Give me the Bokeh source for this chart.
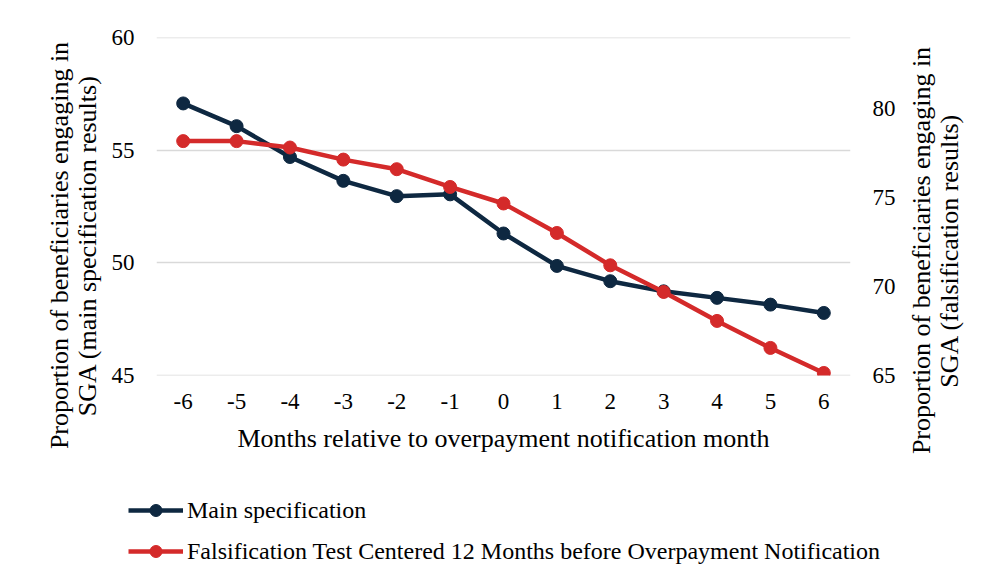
import math
from bokeh.plotting import figure
from bokeh.layouts import column, row
from bokeh.models import (Range1d, LinearAxis, FixedTicker, Legend, LegendItem,
                          FactorRange, ColumnDataSource, Label)
from bokeh.embed import file_html
from bokeh.resources import INLINE

months = ["-6", "-5", "-4", "-3", "-2", "-1", "0", "1", "2", "3", "4", "5", "6"]
main_spec = [57.08, 56.07, 54.70, 53.64, 52.96, 53.04, 51.30, 49.86, 49.18, 48.73, 48.44, 48.14, 47.77]
falsification = [78.18, 78.18, 77.82, 77.14, 76.60, 75.60, 74.67, 73.01, 71.19, 69.69, 68.06, 66.54, 65.13]
left_ticks = [45, 50, 55, 60]
right_ticks = [65, 70, 75, 80]
series_names = ["Main specification",
                "Falsification Test Centered 12 Months before Overpayment Notification"]
left_title = "Proportion of beneficiaries engaging in\nSGA (main specification results)"
right_title = "Proportion of beneficiaries engaging in\nSGA (falsification results)"
x_title = "Months relative to overpayment notification month"

NAVY = "#0E2841"
RED = "#D42A2A"
FONT = "Liberation Serif"
TICK_FS = "23px"
TITLE_FS = "26px"
LEG_FS = "24px"

LEFT_W = 104

src = ColumnDataSource(dict(x=months, main=main_spec, fals=falsification))

# ---------------- main chart ----------------
eps = 0.01
p = figure(x_range=FactorRange(*months), y_range=Range1d(45 - eps, 60 + eps),
           width=905 - LEFT_W, height=470, output_backend="svg", toolbar_location=None,
           min_border_left=156 - LEFT_W, min_border_right=55, min_border_top=37,
           min_border_bottom=95)
r = (84 - 65) / 15
p.extra_y_ranges = {"right": Range1d(65 - eps * r, 84 + eps * r)}
p.outline_line_color = None
p.background_fill_color = "white"
p.border_fill_color = "white"

p.line("x", "main", source=src, line_color=NAVY, line_width=4.5)
p.scatter("x", "main", source=src, size=13, fill_color=NAVY, line_color=NAVY)
p.line("x", "fals", source=src, line_color=RED, line_width=4.5, y_range_name="right")
p.scatter("x", "fals", source=src, size=13, fill_color=RED, line_color=RED, y_range_name="right")

ly = p.left[0]
ly.ticker = FixedTicker(ticks=left_ticks)
ry = LinearAxis(y_range_name="right", ticker=FixedTicker(ticks=right_ticks))
p.add_layout(ry, "right")
bx = p.below[0]

for ax in [bx, ly, ry]:
    ax.axis_line_color = None
    ax.major_tick_line_color = None
    ax.minor_tick_line_color = None
    ax.major_tick_out = 0
    ax.major_tick_in = 0
    ax.minor_tick_out = 0
    ax.minor_tick_in = 0
    ax.major_label_text_font = FONT
    ax.major_label_text_font_size = TICK_FS
    ax.major_label_text_color = "black"
    ax.axis_label_text_font = FONT
    ax.axis_label_text_font_size = TITLE_FS
    ax.axis_label_text_font_style = "normal"
    ax.axis_label_text_color = "black"

bx.axis_label = x_title
bx.major_label_standoff = 18
bx.axis_label_standoff = 12
ly.major_label_standoff = 22
ry.major_label_standoff = 22

p.xgrid.grid_line_color = None
p.ygrid.grid_line_color = "#d9d9d9"
p.ygrid.grid_line_width = 1.5


def title_panel(text, width, cx, cy_from_top):
    f = figure(width=width, height=580, output_backend="svg", toolbar_location=None,
               x_axis_type=None, y_axis_type=None, min_border=0,
               x_range=Range1d(0, 1), y_range=Range1d(0, 1))
    f.outline_line_color = None
    f.grid.visible = False
    f.add_layout(Label(x=cx, y=580 - cy_from_top, x_units="screen", y_units="screen",
                       text=text, angle=math.pi / 2,
                       text_align="center", text_baseline="middle",
                       text_font=FONT, text_font_size=TITLE_FS, text_color="black",
                       text_line_height=0.95))
    return f


# ---------------- axis titles (both read bottom to top) ----------------
lt = title_panel(left_title, LEFT_W, 73, 245)
tf = title_panel(right_title, 80, 30, 250)

# ---------------- legend (below the chart) ----------------
lf = figure(x_range=FactorRange(*months), y_range=Range1d(0, 1),
            width=900 - LEFT_W, height=110, output_backend="svg", toolbar_location=None,
            x_axis_type=None, y_axis_type=None, min_border=0)
lf.outline_line_color = None
lf.grid.visible = False
# the series values lie far outside this panel's range, so only their legend glyphs show
ll1 = lf.line("x", "main", source=src, line_color=NAVY, line_width=4.5)
ls1 = lf.scatter("x", "main", source=src, size=13, fill_color=NAVY, line_color=NAVY)
ll2 = lf.line("x", "fals", source=src, line_color=RED, line_width=4.5)
ls2 = lf.scatter("x", "fals", source=src, size=13, fill_color=RED, line_color=RED)
legend = Legend(items=[
    LegendItem(label=series_names[0], renderers=[ll1, ls1]),
    LegendItem(label=series_names[1], renderers=[ll2, ls2]),
], location=(128 - LEFT_W, 14), orientation="vertical")
legend.border_line_color = None
legend.background_fill_alpha = 0
legend.padding = 0
legend.margin = 0
legend.spacing = 11
legend.glyph_width = 55
legend.glyph_height = 30
legend.label_height = 30
legend.label_standoff = 4
legend.label_text_font = FONT
legend.label_text_font_size = LEG_FS
legend.label_text_color = "black"
lf.add_layout(legend, "center")

layout = row(lt, column(row(p), lf, spacing=0), tf, spacing=0)
open("out.html", "w").write(file_html(layout, INLINE))
